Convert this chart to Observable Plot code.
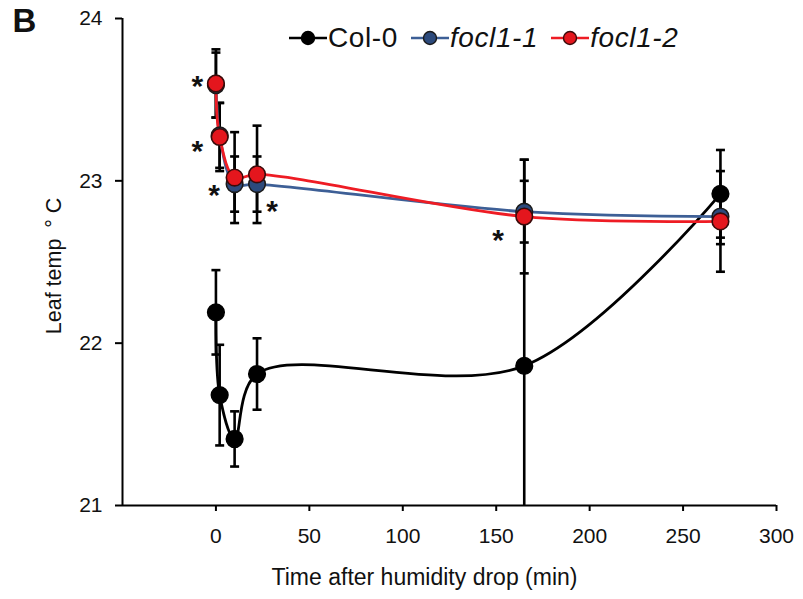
<!DOCTYPE html>
<html>
<head>
<meta charset="utf-8">
<script src="https://cdn.jsdelivr.net/npm/d3@7"></script>
<script src="https://cdn.jsdelivr.net/npm/@observablehq/plot@0.6"></script>
<style>
  html, body { margin: 0; padding: 0; background: #fff; }
  #wrap { position: relative; width: 803px; height: 599px; font-family: "Liberation Sans", Arial, sans-serif; }
  #legend { position: absolute; top: 22px; left: 288px; display: flex; align-items: center; font-size: 28px; letter-spacing: 0.6px; color: #111; white-space: nowrap; }
  #legend .item { display: flex; align-items: center; margin-right: 12px; }
  #legend svg { display: block; }
</style>
</head>
<body>
<div id="wrap"><div id="legend"></div></div>
<script>
// ---- data ----
const times = [0, 2, 10, 22, 165, 270];
const col0 = [22.19, 21.68, 21.41, 21.81, 21.86, 22.92];
const col0Err = [0.26, 0.31, 0.17, 0.22, 1.27, 0.27];
const focl11 = [23.59, 23.28, 22.98, 22.98, 22.81, 22.78];
const focl11Err = [0.20, 0.20, 0.17, 0.17, 0.19, 0.17];
const focl12 = [23.60, 23.27, 23.02, 23.04, 22.78, 22.75];
const focl12Err = [0.21, 0.21, 0.28, 0.30, 0.35, 0.31];
const seriesNames = ["Col-0", "focl1-1", "focl1-2"];
const xTicks = [0, 50, 100, 150, 200, 250, 300];
const yTicks = [21, 22, 23, 24];
// significance asterisks (time, temp) as placed in the reference
const starTime = [-10, -10, -1, 30, 151];
const starTemp = [23.63, 23.23, 22.96, 22.86, 22.68];

const lineColor = {"Col-0": "#000000", "focl1-1": "#3d5f96", "focl1-2": "#ee1c24"};
const dotFill = {"Col-0": "#000000", "focl1-1": "#2c4a7c", "focl1-2": "#e4161d"};
const dotStroke = {"Col-0": "#000000", "focl1-1": "#1a1a1a", "focl1-2": "#3a0a0a"};

const values = [col0, focl11, focl12];
const errs = [col0Err, focl11Err, focl12Err];
const data = [];
seriesNames.forEach((s, i) => {
  times.forEach((t, j) => {
    data.push({series: s, t, v: values[i][j], lo: values[i][j] - errs[i][j], hi: values[i][j] + errs[i][j]});
  });
});
const stars = starTime.map((t, i) => ({t, v: starTemp[i]}));

const capSymbol = {
  draw(ctx, size) {
    const w = Math.sqrt(size / Math.PI);
    ctx.moveTo(-w, 0);
    ctx.lineTo(w, 0);
  }
};

const font = "Liberation Sans, Arial, sans-serif";

const chart = Plot.plot({
  width: 803,
  height: 599,
  marginLeft: 122,
  marginRight: 27,
  marginTop: 18,
  marginBottom: 94,
  style: {fontFamily: font, background: "#fff", color: "#111"},
  x: {domain: [-50, 300]},
  y: {domain: [21, 24]},
  marks: [
    // error bars
    Plot.ruleX(data, {x: "t", y1: "lo", y2: "hi", stroke: "#000", strokeWidth: 2.6, clip: true}),
    Plot.dot(data.filter(d => d.hi <= 24), {x: "t", y: "hi", symbol: capSymbol, r: 4.5, fill: "none", stroke: "#000", strokeWidth: 2.6}),
    Plot.dot(data.filter(d => d.lo >= 21), {x: "t", y: "lo", symbol: capSymbol, r: 4.5, fill: "none", stroke: "#000", strokeWidth: 2.6}),
    // axes lines
    Plot.ruleX([-50], {stroke: "#000", strokeWidth: 2}),
    Plot.ruleY([21], {stroke: "#000", strokeWidth: 2}),
    Plot.axisY({ticks: yTicks, tickSize: 7, tickPadding: 13, fontSize: 21, label: null, tickFormat: d => d, stroke: "#000", strokeWidth: 2}),
    Plot.axisX({ticks: xTicks, tickSize: 6, tickPadding: 17, fontSize: 21, label: null, tickFormat: d => d, stroke: "#000", strokeWidth: 2}),
    // smoothed lines
    Plot.line(data, {x: "t", y: "v", z: "series", stroke: d => lineColor[d.series], strokeWidth: 2.8, curve: "catmull-rom"}),
    // markers
    Plot.dot(data, {x: "t", y: "v", r: 8.3, fill: d => dotFill[d.series], stroke: d => dotStroke[d.series], strokeWidth: 1.6}),
    // asterisks
    Plot.text(stars, {x: "t", y: "v", text: d => "*", fontSize: 30, fontWeight: "bold", dy: 8, fill: "#111"}),
    // labels
    Plot.text(["Time after humidity drop (min)"], {frameAnchor: "bottom", textAnchor: "middle", lineAnchor: "middle", dy: 72, dx: -25, fontSize: 23, fill: "#111"}),
    Plot.text(["Leaf temp\u2002\u00B0 C"], {frameAnchor: "left", textAnchor: "middle", lineAnchor: "middle", rotate: -90, dx: -68, dy: 4, fontSize: 21.5, fill: "#111"}),
    Plot.text(["B"], {frameAnchor: "top-left", textAnchor: "start", lineAnchor: "top", dx: -110, dy: -10, fontSize: 33, fontWeight: "bold", fill: "#111"})
  ]
});
document.getElementById("wrap").prepend(chart);

// legend
const legend = document.getElementById("legend");
seriesNames.forEach(s => {
  const item = document.createElement("div");
  item.className = "item";
  item.innerHTML = `<svg width="40" height="20"><line x1="1" y1="10" x2="39" y2="10" stroke="${lineColor[s]}" stroke-width="2.6"/><circle cx="20" cy="10" r="6.5" fill="${dotFill[s]}" stroke="${dotStroke[s]}" stroke-width="1.4"/></svg>` +
    `<span style="${s === "Col-0" ? "" : "font-style:italic;"}">${s}</span>`;
  legend.appendChild(item);
});
</script>
</body>
</html>
